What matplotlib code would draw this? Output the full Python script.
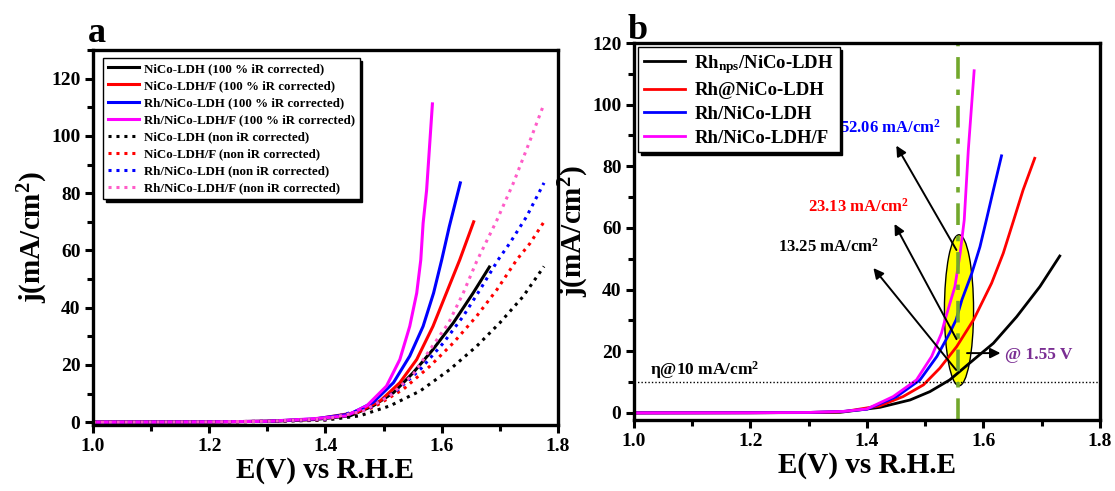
import numpy as np
import matplotlib
matplotlib.use('Agg')
import matplotlib.pyplot as plt
from matplotlib.patches import Ellipse
from matplotlib.ticker import MultipleLocator

plt.rcParams['font.family'] = ['Liberation Serif', 'DejaVu Serif']
plt.rcParams['font.weight'] = 'bold'
plt.rcParams['mathtext.fontset'] = 'custom'
plt.rcParams['mathtext.rm'] = 'Liberation Serif:bold'
plt.rcParams['mathtext.bf'] = 'Liberation Serif:bold'
plt.rcParams['mathtext.it'] = 'Liberation Serif:bold'
plt.rcParams['mathtext.default'] = 'rm'

# ---- panel a: iR corrected vs non corrected LSV (E in V vs RHE, j in mA/cm2)
a_nico_E = [1.00, 1.20, 1.30, 1.38, 1.442, 1.482, 1.517, 1.551, 1.585, 1.620, 1.654, 1.682]
a_nico_j = [0.0, 0.1, 0.3, 0.9, 2.2, 5.7, 10.3, 17.3, 25.4, 34.7, 45.1, 54.2]
a_nicof_E = [1.00, 1.20, 1.30, 1.38, 1.454, 1.494, 1.528, 1.557, 1.585, 1.608, 1.631, 1.655]
a_nicof_j = [0.0, 0.1, 0.3, 1.0, 3.4, 7.4, 13.8, 21.9, 33.5, 45.1, 56.7, 70.0]
a_rh_E = [1.00, 1.20, 1.30, 1.38, 1.442, 1.482, 1.517, 1.545, 1.568, 1.586, 1.600, 1.613, 1.632]
a_rh_j = [0.0, 0.1, 0.3, 1.1, 2.8, 6.9, 13.8, 23.1, 33.5, 45.1, 56.7, 68.3, 83.6]
a_rhf_E = [1.00, 1.20, 1.30, 1.38, 1.436, 1.471, 1.505, 1.528, 1.545, 1.557, 1.564, 1.568, 1.574, 1.584]
a_rhf_j = [0.0, 0.1, 0.3, 1.2, 2.2, 5.7, 12.6, 21.9, 33.5, 45.1, 56.7, 69.5, 81.0, 111.2]

a_nico_nir_E = [1.00, 1.20, 1.30, 1.40, 1.459, 1.511, 1.563, 1.614, 1.660, 1.700, 1.740, 1.776]
a_nico_nir_j = [0.0, 0.1, 0.2, 0.7, 2.2, 5.7, 10.9, 18.4, 26.5, 34.7, 43.9, 54.4]
a_nicof_nir_E = [1.00, 1.20, 1.30, 1.40, 1.482, 1.534, 1.580, 1.620, 1.660, 1.695, 1.729, 1.752, 1.776]
a_nicof_nir_j = [0.0, 0.1, 0.3, 0.9, 5.1, 11.5, 19.6, 27.7, 37.0, 46.3, 56.7, 62.5, 70.0]
a_rh_nir_E = [1.00, 1.20, 1.30, 1.40, 1.477, 1.522, 1.563, 1.603, 1.637, 1.666, 1.697, 1.717, 1.746, 1.776]
a_rh_nir_j = [0.0, 0.1, 0.3, 1.0, 5.1, 10.9, 18.4, 27.7, 37.0, 46.3, 56.7, 62.5, 71.8, 83.6]
a_rhf_nir_E = [1.00, 1.20, 1.30, 1.40, 1.465, 1.511, 1.551, 1.580, 1.612, 1.637, 1.660, 1.695, 1.723, 1.752, 1.776]
a_rhf_nir_j = [0.0, 0.1, 0.3, 1.1, 3.9, 9.2, 16.7, 25.4, 34.7, 45.1, 56.1, 70.6, 83.4, 98.4, 111.2]

a_labels = ['NiCo-LDH (100 % iR corrected)', 'NiCo-LDH/F (100 % iR corrected)',
            'Rh/NiCo-LDH (100 % iR corrected)', 'Rh/NiCo-LDH/F (100 % iR corrected)',
            'NiCo-LDH (non iR corrected)', 'NiCo-LDH/F (non iR corrected)',
            'Rh/NiCo-LDH (non iR corrected)', 'Rh/NiCo-LDH/F (non iR corrected)']

# ---- panel b: catalysts compared
b_rhnps_E = [1.00, 1.20, 1.30, 1.354, 1.422, 1.474, 1.508, 1.542, 1.579, 1.617, 1.657, 1.697, 1.731]
b_rhnps_j = [0.0, 0.05, 0.1, 0.2, 1.8, 4.2, 6.9, 10.7, 16.6, 22.6, 31.2, 41.0, 50.9]
b_rhat_E = [1.00, 1.20, 1.30, 1.36, 1.422, 1.462, 1.497, 1.525, 1.554, 1.583, 1.614, 1.634, 1.652, 1.668, 1.688]
b_rhat_j = [0.0, 0.05, 0.15, 0.4, 2.3, 5.3, 9.1, 14.5, 21.5, 30.2, 42.1, 51.8, 62.6, 72.3, 82.6]
b_rh_E = [1.00, 1.20, 1.30, 1.36, 1.40, 1.451, 1.491, 1.520, 1.542, 1.553, 1.563, 1.580, 1.594, 1.605, 1.617, 1.631]
b_rh_j = [0.0, 0.05, 0.15, 0.5, 1.2, 5.3, 10.7, 18.3, 25.9, 30.2, 36.7, 45.3, 53.9, 62.6, 72.3, 83.4]
b_rhf_E = [1.00, 1.20, 1.30, 1.36, 1.40, 1.445, 1.485, 1.511, 1.528, 1.534, 1.551, 1.560, 1.567, 1.574, 1.584]
b_rhf_j = [0.0, 0.05, 0.15, 0.5, 1.3, 5.3, 10.7, 18.3, 25.9, 30.2, 41.0, 51.8, 62.6, 85.3, 111.0]

b_labels = ['Rh$_{nps}$/NiCo-LDH', 'Rh@NiCo-LDH', 'Rh/NiCo-LDH', 'Rh/NiCo-LDH/F']

E_mark = 1.556            # potential where currents are compared
j_ref = 10                # current density for overpotential
j_at_mark = [52.06, 23.13, 13.25]
mark_texts = ['52.06 mA/cm$^2$', '23.13 mA/cm$^2$', '13.25 mA/cm$^2$']
mark_colors = ['#0000FF', '#FF0000', 'black']

colors = ['black', '#FF0000', '#0000FF', '#FF00FF']
pink = '#FF5CC8'


def style_axes(ax, ymax, ymin):
    ax.set_xlim(1.0, 1.8)
    ax.set_ylim(ymin, ymax)
    ax.xaxis.set_major_locator(MultipleLocator(0.2))
    ax.xaxis.set_minor_locator(MultipleLocator(0.1))
    ax.yaxis.set_major_locator(MultipleLocator(20))
    ax.yaxis.set_minor_locator(MultipleLocator(10))
    ax.tick_params(which='major', direction='out', length=6, width=2.2, labelsize=14, pad=3)
    ax.tick_params(which='minor', direction='out', length=4, width=2.2)
    for s in ax.spines.values():
        s.set_linewidth(2.4)
    ax.set_xlabel('E(V) vs R.H.E', fontsize=21, fontweight='bold', labelpad=2)
    ax.set_ylabel('j(mA/cm$^2$)', fontsize=21, fontweight='bold', labelpad=1)


fig = plt.figure(figsize=(11.15, 4.91), dpi=100)

# panel a
ax1 = fig.add_axes([0.0834, 0.1344, 0.417, 0.7636])
solid = [(a_nico_E, a_nico_j), (a_nicof_E, a_nicof_j), (a_rh_E, a_rh_j), (a_rhf_E, a_rhf_j)]
dotted = [(a_nico_nir_E, a_nico_nir_j), (a_nicof_nir_E, a_nicof_nir_j),
          (a_rh_nir_E, a_rh_nir_j), (a_rhf_nir_E, a_rhf_nir_j)]
for (E, j), c, lab in zip(solid, colors, a_labels[:4]):
    ax1.plot(E, j, color=c, lw=2.2, label=lab)
for (E, j), c, lab in zip(dotted, ['black', '#FF0000', '#0000FF', pink], a_labels[4:]):
    ax1.plot(E, j, color=c, lw=2.2, ls=(0, (1, 1.6)), label=lab)
style_axes(ax1, 130, -1)
leg1 = ax1.legend(loc='upper left', bbox_to_anchor=(0.022, 0.978), borderaxespad=0,
                  prop={'family': 'Liberation Serif', 'weight': 'bold', 'size': 9.3},
                  fancybox=False, edgecolor='black', framealpha=1, labelspacing=0.39,
                  handlelength=2.4, handletextpad=0.4, borderpad=0.35,
                  shadow={'color': 'black', 'alpha': 1})
leg1.get_frame().set_linewidth(1.0)
ax1.text(-0.01, 1.0, 'a', transform=ax1.transAxes, fontsize=26, fontweight='bold',
         va='bottom', ha='left')

# panel b
ax2 = fig.add_axes([0.5686, 0.1446, 0.4179, 0.7678])
curves_b = [(b_rhnps_E, b_rhnps_j), (b_rhat_E, b_rhat_j), (b_rh_E, b_rh_j), (b_rhf_E, b_rhf_j)]
for (E, j), c, lab in zip(curves_b, colors, b_labels):
    ax2.plot(E, j, color=c, lw=2.0, label=lab)
style_axes(ax2, 120, -2.3)

ax2.axhline(j_ref, color='black', lw=1.0, ls=(0, (1, 1.5)))
ax2.axvline(E_mark, color='#72A82C', lw=2.6, ls=(0, (6, 3, 1.5, 3)))
ax2.add_patch(Ellipse((1.558, 33.3), 0.05, 49, facecolor='#FFFF00', edgecolor='black',
                      lw=1.0, zorder=1.5))
ax2.text(1.027, 12.5, 'η@10 mA/cm$^2$', fontsize=12.5, fontweight='bold', color='black')

text_pos = [(1.353, 92.4), (1.298, 66.8), (1.247, 53.8)]
arrow_end = [(1.448, 87.5), (1.445, 62.1), (1.408, 47.7)]
for jv, txt, c, (tx, ty), (ex, ey) in zip(j_at_mark, mark_texts, mark_colors, text_pos, arrow_end):
    ax2.annotate('', xy=(ex, ey), xytext=(E_mark, jv),
                 arrowprops=dict(arrowstyle='-|>', color='black', lw=1.4, mutation_scale=15))
    ax2.text(tx, ty, txt, color=c, fontsize=12, fontweight='bold', va='center', ha='left')

ax2.annotate('', xy=(1.634, 19.4), xytext=(1.567, 19.4),
             arrowprops=dict(arrowstyle='-|>', color='black', lw=1.4, mutation_scale=15))
ax2.text(1.637, 18.8, '@ 1.55 V', color='#7A2E93', fontsize=12.5, fontweight='bold', va='center')

leg2 = ax2.legend(loc='upper left', bbox_to_anchor=(0.009, 0.989), borderaxespad=0,
                  prop={'family': 'Liberation Serif', 'weight': 'bold', 'size': 13.5},
                  fancybox=False, edgecolor='black', framealpha=1, labelspacing=0.35,
                  handlelength=2.2, handletextpad=0.5, borderpad=0.3,
                  shadow={'color': 'black', 'alpha': 1})
leg2.get_frame().set_linewidth(1.0)
ax2.text(-0.014, 0.99, 'b', transform=ax2.transAxes, fontsize=26, fontweight='bold',
         va='bottom', ha='left')

fig.savefig('out.png', dpi=100)
